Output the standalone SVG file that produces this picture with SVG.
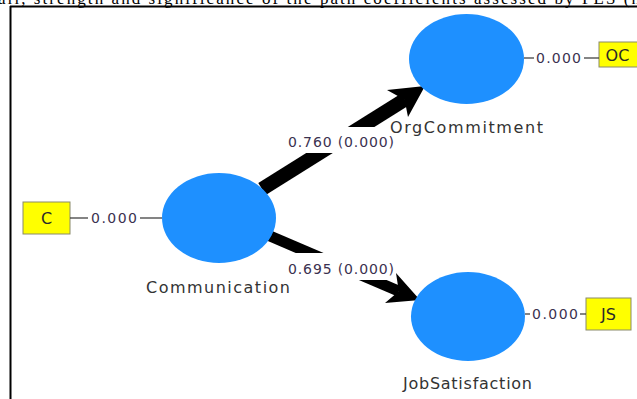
<svg xmlns="http://www.w3.org/2000/svg" width="637" height="399" viewBox="0 0 637 399">
  <style>
    .lv { fill: #1e90ff; }
    .ind { fill: #ffff00; stroke: #8a8a6a; stroke-width: 1; }
    .name { font-family: "DejaVu Sans", "Open Sans", sans-serif; font-size: 16px; fill: #333333; }
    .num { font-family: "DejaVu Sans", "Open Sans", sans-serif; font-size: 14px; fill: #3b3150; }
    .ilabel { font-family: "DejaVu Sans", "Open Sans", sans-serif; font-size: 16px; fill: #2a2a2a; text-anchor: middle; }
    .tie { stroke: #333333; stroke-width: 1.2; fill: none; }
    .shaft { stroke: #000000; fill: none; stroke-linecap: butt; }
    .head { fill: #000000; }
    .bg { fill: #ffffff; }
  </style>

  <!-- caption line above the frame, cut at the top edge -->
  <text x="-2" y="4" font-family="Liberation Serif, serif" font-size="17" fill="#000" textLength="642" lengthAdjust="spacing">all, strength and significance of the path coefficients assessed by PLS (n</text>

  <!-- frame -->
  <g id="frame">
    <line x1="10" y1="6.5" x2="637" y2="6.5" stroke="#000" stroke-width="2"/>
    <line x1="10.5" y1="6" x2="10.5" y2="399" stroke="#000" stroke-width="2"/>
  </g>

  <!-- structural paths -->
  <g id="connectors">
    <line class="shaft" x1="262" y1="189" x2="405" y2="99.5" stroke-width="14"/>
    <polygon class="head" points="425,86 408,117 404.6,99.7 387,90"/>
    <line class="shaft" x1="270" y1="236" x2="399" y2="291.3" stroke-width="11"/>
    <polygon class="head" points="420,300 385,303 398.8,291.3 396,273"/>
    <!-- label backgrounds interrupt the shafts -->
    <rect class="bg" x="286" y="127" width="110" height="26"/>
    <rect class="bg" x="286" y="253" width="110" height="27"/>
    <text class="num" x="288" y="147" textLength="106" lengthAdjust="spacing">0.760 (0.000)</text>
    <text class="num" x="288" y="274" textLength="106" lengthAdjust="spacing">0.695 (0.000)</text>
  </g>

  <g id="Communication">
    <ellipse class="lv" cx="219" cy="218" rx="57" ry="45"/>
    <text class="name" x="146" y="293" textLength="144" lengthAdjust="spacing">Communication</text>
  </g>

  <g id="OrgCommitment">
    <ellipse class="lv" cx="466.5" cy="59" rx="57.5" ry="45"/>
    <text class="name" x="390" y="133" textLength="153" lengthAdjust="spacing">OrgCommitment</text>
  </g>

  <g id="JobSatisfaction">
    <ellipse class="lv" cx="468" cy="316.5" rx="57" ry="44.5"/>
    <text class="name" x="403" y="389" textLength="129" lengthAdjust="spacing">JobSatisfaction</text>
  </g>

  <g id="C">
    <rect class="ind" x="23" y="202" width="47" height="32"/>
    <text class="ilabel" x="46.5" y="224">C</text>
    <line class="tie" x1="70" y1="218" x2="88" y2="218"/>
    <text class="num" x="91" y="223" textLength="46" lengthAdjust="spacing">0.000</text>
    <line class="tie" x1="140" y1="218" x2="162" y2="218"/>
  </g>

  <g id="OC">
    <rect class="ind" x="599" y="42" width="42" height="25"/>
    <text class="ilabel" x="617.5" y="61">OC</text>
    <line class="tie" x1="524" y1="58" x2="534" y2="58"/>
    <text class="num" x="536" y="63" textLength="45" lengthAdjust="spacing">0.000</text>
    <line class="tie" x1="584" y1="58" x2="599" y2="58"/>
  </g>

  <g id="JS">
    <rect class="ind" x="586" y="298" width="45" height="32"/>
    <text class="ilabel" x="608.5" y="320">JS</text>
    <line class="tie" x1="525" y1="314" x2="530" y2="314"/>
    <text class="num" x="532" y="319" textLength="46" lengthAdjust="spacing">0.000</text>
    <line class="tie" x1="580" y1="314" x2="586" y2="314"/>
  </g>
</svg>
